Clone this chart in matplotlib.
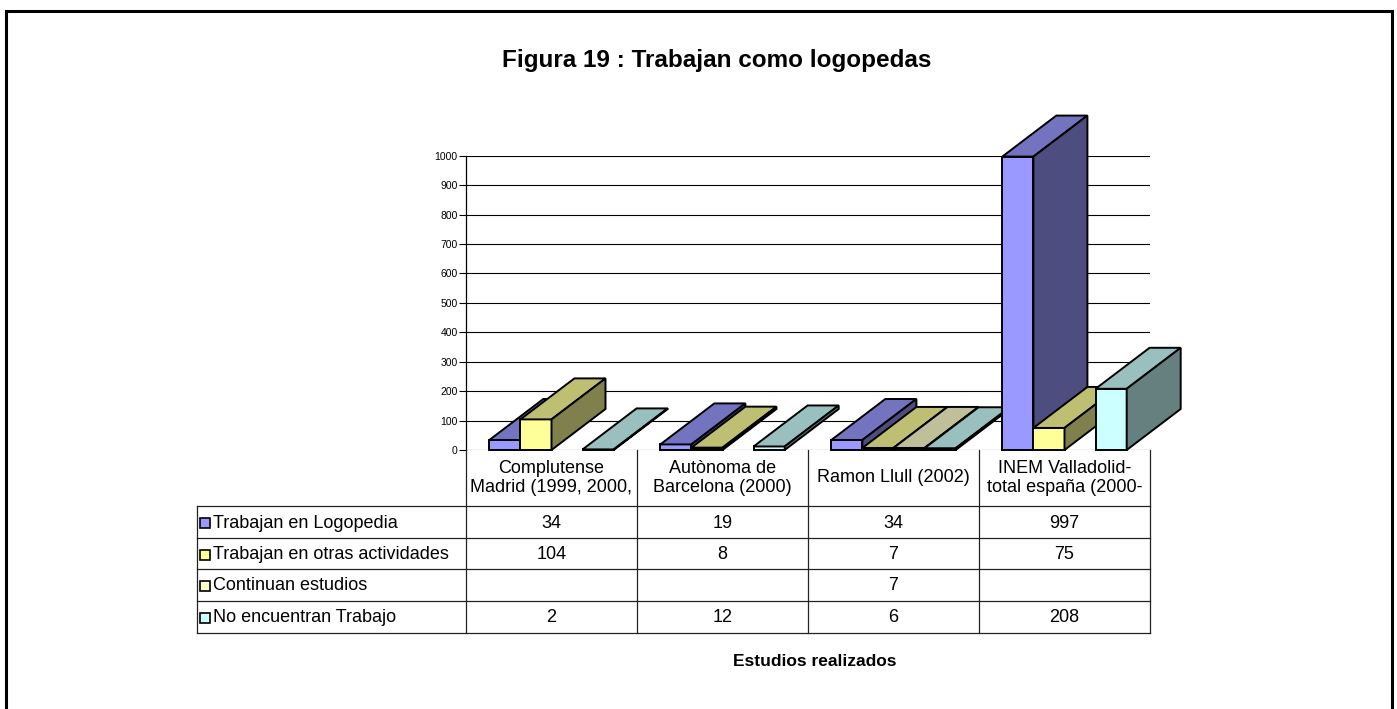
"""
Figura 19: 3-D looking clustered columns with a data table underneath.
"""

import matplotlib
matplotlib.use('Agg')
import matplotlib.pyplot as plt
from matplotlib.colors import to_rgb
from matplotlib.patches import Polygon, Rectangle
from matplotlib.transforms import blended_transform_factory

plt.rcParams['font.family'] = ['Liberation Sans', 'DejaVu Sans']

# Data
# ----------------------------------------------------------------------------

categories = ['Complutense\nMadrid (1999, 2000,', 'Autònoma de\nBarcelona (2000)',
              'Ramon Llull (2002)', 'INEM Valladolid-\ntotal españa (2000-']
series = ['Trabajan en Logopedia', 'Trabajan en otras actividades',
          'Continuan estudios', 'No encuentran Trabajo']
logopedia = [34, 19, 34, 997]
otras = [104, 8, 7, 75]
continuan = [None, None, 7, None]
no_trabajo = [2, 12, 6, 208]
yticks = list(range(0, 1001, 100))

values = [logopedia, otras, continuan, no_trabajo]
colors = ['#9999FF', '#FFFF99', '#FFFFCC', '#CCFFFF']

# Layout (pixels of a 1397x709 figure)
# ----------------------------------------------------------------------------

W, H = 1397, 709


def fx(px):
    return px / W


def fy(py):
    return 1 - py / H


fig = plt.figure(figsize=(W / 100, H / 100), dpi=100)
ax = fig.add_axes([fx(466), fy(450), (1150 - 466) / W, 294.3 / H])
ax.set_xlim(0, len(categories))
ax.set_ylim(0, 1000)
for s in ax.spines.values():
    s.set_visible(False)
ax.set_xticks([])
ax.set_yticks(yticks)
ax.tick_params(axis='y', length=5, width=0.8, labelsize=7.5, pad=1)
ax.yaxis.grid(True, color='black', lw=0.8)
ax.set_axisbelow(True)

# Bars with a 3-D effect
# ----------------------------------------------------------------------------

w = 1 / 5.5             # gap width 150 %
gap = 0.75 * w
dx = 54 / 171           # depth offset in category units
dy = 41 / 294.3 * 1000  # depth offset in value units

zo = 3
for j in range(len(categories)):
    for i, vals in enumerate(values):
        v = vals[j]
        if v is None:
            continue
        c = to_rgb(colors[i])
        top_c = tuple(k * 0.75 for k in c)
        side_c = tuple(k * 0.5 for k in c)
        x0 = j + gap + i * w
        kw = dict(ec='black', lw=1.4, zorder=zo, clip_on=False, joinstyle='miter')
        ax.add_patch(Rectangle((x0, 0), w, v, fc=c, **kw))
        ax.add_patch(Polygon([(x0, v), (x0 + w, v), (x0 + w + dx, v + dy), (x0 + dx, v + dy)],
                             closed=True, fc=top_c, **kw))
        ax.add_patch(Polygon([(x0 + w, 0), (x0 + w + dx, dy), (x0 + w + dx, v + dy), (x0 + w, v)],
                             closed=True, fc=side_c, **kw))
        zo += 1

# Data table
# ----------------------------------------------------------------------------

tr = blended_transform_factory(ax.transData, fig.transFigure)
row_lines = [506, 538, 569, 601, 633]
line_kw = dict(color='#222222', lw=0.9, clip_on=False)

# y axis continues down as the table's first column line
ax.plot([0, 0], [1000, 0], color='black', lw=0.9, clip_on=False)
for k in range(len(categories) + 1):
    ax.plot([k, k], [fy(450), fy(633)], transform=tr, **line_kw)
ax.plot([fx(197), fx(197)], [fy(506), fy(633)], transform=fig.transFigure, **line_kw)
for py in row_lines:
    ax.plot([fx(197), fx(1150)], [fy(py), fy(py)], transform=fig.transFigure, **line_kw)

for j, cat in enumerate(categories):
    ax.text(j + 0.5, fy(478), cat, transform=tr, ha='center', va='center',
            fontsize=13, linespacing=1.2)

for i, name in enumerate(series):
    yc = fy((row_lines[i] + row_lines[i + 1]) / 2 + 1)
    ax.plot([fx(205)], [yc], marker='s', ms=7.5, mfc=colors[i], mec='black', mew=1.2,
            transform=fig.transFigure, clip_on=False)
    ax.text(fx(213), yc, name, transform=fig.transFigure, ha='left', va='center',
            fontsize=13)
    for j, v in enumerate(values[i]):
        if v is not None:
            ax.text(j + 0.5, yc, str(v), transform=tr, ha='center', va='center',
                    fontsize=13)

# Titles and frame
# ----------------------------------------------------------------------------

fig.text(fx(717), fy(60), 'Figura 19 : Trabajan como logopedas', ha='center',
         va='center', fontsize=17.5, fontweight='bold')
fig.text(fx(815), fy(662), 'Estudios realizados', ha='center', va='center',
         fontsize=12.5, fontweight='bold')
fig.add_artist(Rectangle((fx(6), -0.05), fx(1392) - fx(6), fy(11) + 0.05,
                         transform=fig.transFigure, fill=False, ec='black', lw=2.2))

fig.savefig('out.png', dpi=100)
